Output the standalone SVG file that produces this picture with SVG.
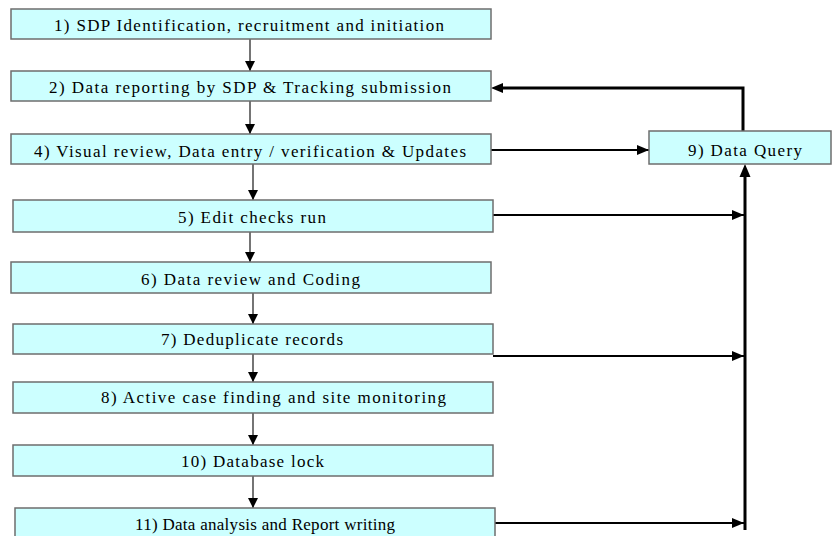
<svg xmlns="http://www.w3.org/2000/svg" width="832" height="536" viewBox="0 0 832 536">
  <style>
    .box { fill: #CCFFFF; stroke: #6E6E6E; stroke-width: 1.5; }
    .down { stroke: #2A2A2A; stroke-width: 1.3; fill: none; marker-end: url(#headS); }
    .side { stroke: #000; stroke-width: 2; fill: none; marker-end: url(#headM); }
    .bus { stroke: #000; stroke-width: 3; fill: none; }
  </style>
  <defs>
    <marker id="headS" markerUnits="userSpaceOnUse" markerWidth="10" markerHeight="10" refX="10" refY="5" orient="auto">
      <polygon points="0,0 10,5 0,10" fill="#000"/>
    </marker>
    <marker id="headM" markerUnits="userSpaceOnUse" markerWidth="12" markerHeight="10" refX="12" refY="5" orient="auto">
      <polygon points="0,0 12,5 0,10" fill="#000"/>
    </marker>
  </defs>

  <!-- connectors -->
  <g id="connectors">
    <line class="down" x1="250" y1="39" x2="250" y2="71"/>
    <line class="down" x1="250" y1="101" x2="250" y2="134"/>
    <line class="down" x1="253" y1="164" x2="253" y2="200"/>
    <line class="down" x1="250" y1="232" x2="250" y2="262"/>
    <line class="down" x1="253" y1="293" x2="253" y2="324"/>
    <line class="down" x1="253" y1="354" x2="253" y2="382"/>
    <line class="down" x1="253" y1="413" x2="253" y2="445"/>
    <line class="down" x1="253" y1="476" x2="253" y2="508"/>

    <!-- query loop back to step 2 -->
    <path class="bus" d="M743,131 V88 H503"/>
    <polygon points="491,88 503,83 503,93" fill="#000"/>

    <!-- feeds into the query bus -->
    <line class="side" x1="491" y1="150" x2="649" y2="150"/>
    <line class="side" x1="493" y1="215" x2="744" y2="215"/>
    <line class="side" x1="493" y1="356" x2="744" y2="356"/>
    <line class="side" x1="493" y1="523" x2="744" y2="523"/>

    <!-- vertical bus up to Data Query -->
    <line class="bus" x1="745" y1="530" x2="745" y2="176"/>
    <polygon points="745,164 739.5,177 750.5,177" fill="#000"/>
  </g>

  <!-- process steps -->
  <g font-family="'Liberation Serif', 'Times New Roman', serif" font-size="17" fill="#000">
  <g id="n1">
    <rect class="box" x="11" y="9" width="480" height="30"/>
    <text x="54" y="31" textLength="390" lengthAdjust="spacing">1) SDP Identification, recruitment and initiation</text>
  </g>
  <g id="n2">
    <rect class="box" x="11" y="71" width="480" height="30"/>
    <text x="49" y="93" textLength="402" lengthAdjust="spacing">2) Data reporting by SDP &amp; Tracking submission</text>
  </g>
  <g id="n4">
    <rect class="box" x="11" y="134" width="480" height="30"/>
    <text x="34" y="156.5" textLength="432" lengthAdjust="spacing">4) Visual review, Data entry / verification &amp; Updates</text>
  </g>
  <g id="n5">
    <rect class="box" x="13" y="200" width="480" height="32"/>
    <text x="178" y="222.5" textLength="148" lengthAdjust="spacing">5) Edit checks run</text>
  </g>
  <g id="n6">
    <rect class="box" x="11" y="262" width="480" height="31"/>
    <text x="141" y="284.5" textLength="219" lengthAdjust="spacing">6) Data review and Coding</text>
  </g>
  <g id="n7">
    <rect class="box" x="13" y="324" width="480" height="30"/>
    <text x="161" y="345" textLength="182" lengthAdjust="spacing">7) Deduplicate records</text>
  </g>
  <g id="n8">
    <rect class="box" x="13" y="382" width="480" height="31"/>
    <text x="101" y="403" textLength="345" lengthAdjust="spacing">8) Active case finding and site monitoring</text>
  </g>
  <g id="n10">
    <rect class="box" x="13" y="445" width="480" height="31"/>
    <text x="181" y="467" textLength="143" lengthAdjust="spacing">10) Database lock</text>
  </g>
  <g id="n11">
    <rect class="box" x="15" y="508" width="480" height="32"/>
    <text x="135" y="530" textLength="260" lengthAdjust="spacing">11) Data analysis and Report writing</text>
  </g>
  <g id="n9">
    <rect class="box" x="649" y="131" width="182" height="33"/>
    <text x="688" y="155.5" textLength="114" lengthAdjust="spacing">9) Data Query</text>
  </g>
  </g>
</svg>
